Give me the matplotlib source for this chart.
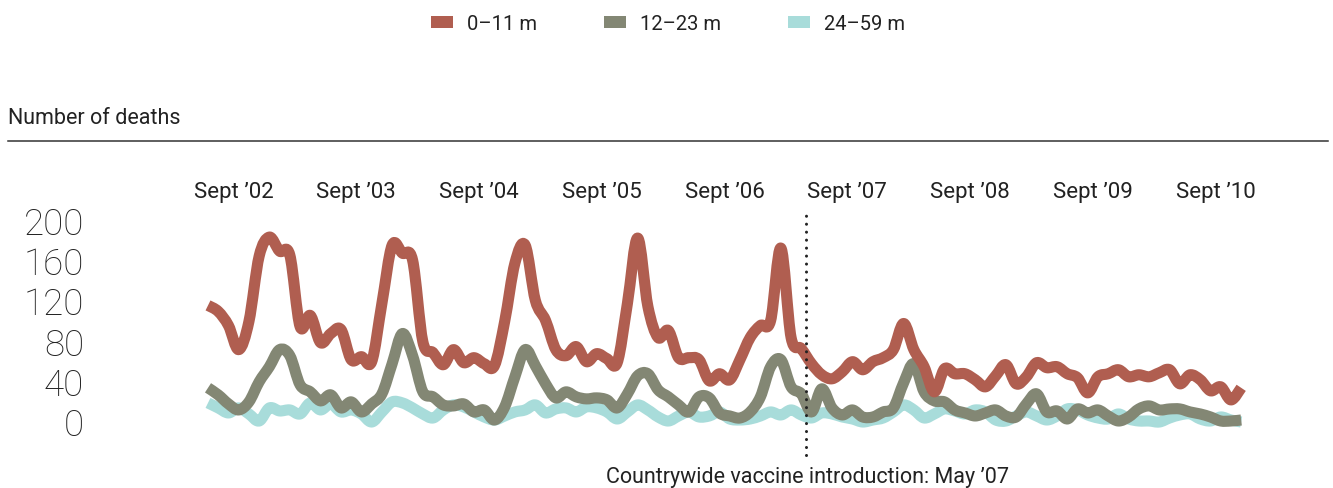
import numpy as np
import matplotlib
matplotlib.use("Agg")
import matplotlib.pyplot as plt
from matplotlib.path import Path
from matplotlib.patches import PathPatch, Patch
from matplotlib.lines import Line2D

# ---- data: monthly deaths, July 2002 .. December 2010 ----
months = np.arange(102)

deaths_0_11 = [116, 110, 96, 72, 100, 165, 184, 170, 166, 95, 106, 79, 88, 92, 62, 65, 60, 118,
               176, 168, 161, 80, 69, 57, 72, 59, 64, 58, 56, 100, 158, 176, 121, 101, 72, 66,
               75, 60, 68, 63, 59, 118, 183, 115, 84, 91, 64, 64, 62, 41, 48, 42, 62, 84,
               96, 101, 173, 84, 73, 58, 47, 43, 50, 60, 52, 60, 64, 72, 98, 72, 55, 30,
               53, 48, 48, 42, 35, 46, 57, 38, 45, 59, 54, 55, 48, 44, 29, 45, 48, 52,
               45, 47, 45, 49, 52, 38, 47, 42, 31, 35, 22, 34]

deaths_12_23 = [34, 27, 18, 12, 20, 40, 55, 72, 66, 37, 30, 21, 27, 14, 20, 10, 18, 28,
                58, 88, 66, 30, 25, 17, 16, 18, 10, 12, 2, 15, 45, 72, 56, 38, 24, 30,
                25, 23, 24, 22, 14, 28, 46, 48, 32, 25, 17, 10, 25, 24, 9, 6, 4, 10,
                25, 55, 62, 35, 28, 10, 33, 14, 7, 12, 5, 5, 10, 14, 39, 58, 30, 21,
                20, 12, 9, 6, 9, 12, 6, 5, 18, 28, 10, 11, 3, 13, 9, 12, 6, 1,
                5, 13, 16, 12, 13, 13, 10, 8, 5, 1, 1, 2]

deaths_24_59 = [19, 14, 9, 14, 8, 1, 14, 11, 12, 8, 19, 12, 18, 10, 12, 8, 0, 10,
                20, 19, 14, 8, 4, 12, 17, 15, 10, 5, 2, 6, 10, 12, 17, 9, 13, 14,
                10, 15, 14, 10, 3, 10, 17, 12, 5, 1, 6, 10, 5, 6, 10, 3, 2, 3,
                6, 10, 7, 12, 7, 4, 9, 8, 5, 3, 0, 2, 4, 10, 17, 12, 4, 8,
                13, 11, 8, 12, 10, 2, 1, 6, 10, 6, 2, 6, 13, 12, 7, 4, 3, 8,
                3, 1, 1, 0, 4, 7, 8, 3, 1, 5, 2, 0]

series_labels = ["0–11 m", "12–23 m", "24–59 m"]
series_colors = ["#B05E50", "#838774", "#A8DCDA"]

tick_months = [2.5 + 12 * k for k in range(9)]   # mid-September of each year
tick_labels = ["Sept ’02", "Sept ’03", "Sept ’04", "Sept ’05", "Sept ’06",
               "Sept ’07", "Sept ’08", "Sept ’09", "Sept ’10"]
y_ticks = [0, 40, 80, 120, 160, 200]
vaccine_month = 58.45   # May '07
vaccine_label = "Countrywide vaccine introduction: May ’07"

plt.rcParams['font.family'] = ['Roboto', 'DejaVu Sans']
TXT = "#222222"

W, H = 1333, 488
fig = plt.figure(figsize=(W / 100, H / 100), dpi=100)
ax = fig.add_axes([208 / W, 1 - 422 / H, (1241.2 - 208) / W, (422 - 221) / H])
ax.set_xlim(0, 101)
ax.set_ylim(0, 200)
for s in ax.spines.values():
    s.set_visible(False)


def smooth_path(x, y):
    pts = np.column_stack([np.asarray(x, float), np.asarray(y, float)])
    p = np.vstack([pts[0], pts, pts[-1]])
    verts = [pts[0]]
    codes = [Path.MOVETO]
    for i in range(len(pts) - 1):
        p0, p1, p2, p3 = p[i], p[i + 1], p[i + 2], p[i + 3]
        verts += [p1 + (p2 - p0) / 6, p2 - (p3 - p1) / 6, p2]
        codes += [Path.CURVE4] * 3
    return Path(verts, codes)


series = [deaths_0_11, deaths_12_23, deaths_24_59]
for vals, col, z in zip(series[::-1], series_colors[::-1], [1, 2, 3]):
    patch = PathPatch(smooth_path(months, vals), facecolor='none', edgecolor=col,
                      lw=8.0, capstyle='butt', joinstyle='round', clip_on=False, zorder=z)
    ax.add_patch(patch)

# vaccine introduction line
ax.plot([vaccine_month, vaccine_month], [-33, 209], color=TXT, lw=2.2,
        dashes=(0.01, 2.6), dash_capstyle='round', clip_on=False, zorder=5)

ax.set_yticks(y_ticks)
ax.set_yticklabels([str(v) for v in y_ticks], fontsize=26.5, color=TXT, fontweight='light')
ax.tick_params(axis='y', length=0, pad=(208 - 84) * 0.72)
ax.set_xticks(tick_months)
ax.set_xticklabels(tick_labels, fontsize=16, color=TXT)
ax.xaxis.set_ticks_position('top')
ax.tick_params(axis='x', length=0, pad=13)

handles = [Patch(facecolor=c, edgecolor='none') for c in series_colors]
fig.legend(handles, series_labels, loc='center', bbox_to_anchor=(668 / W, 1 - 24 / H),
           ncol=3, frameon=False, fontsize=14.5, handlelength=1.1, handleheight=0.55,
           handletextpad=0.7, columnspacing=3.3, labelcolor=TXT)

fig.text(8 / W, 1 - 118 / H, "Number of deaths", fontsize=15.5, color=TXT, va='center')
fig.add_artist(Line2D([8 / W, 1328 / W], [1 - 141 / H, 1 - 141 / H], color='#333333', lw=1.1))
fig.text(807 / W, 1 - 477 / H, vaccine_label, fontsize=15.5, color=TXT, ha='center', va='center')

fig.savefig("out.png", dpi=100)
